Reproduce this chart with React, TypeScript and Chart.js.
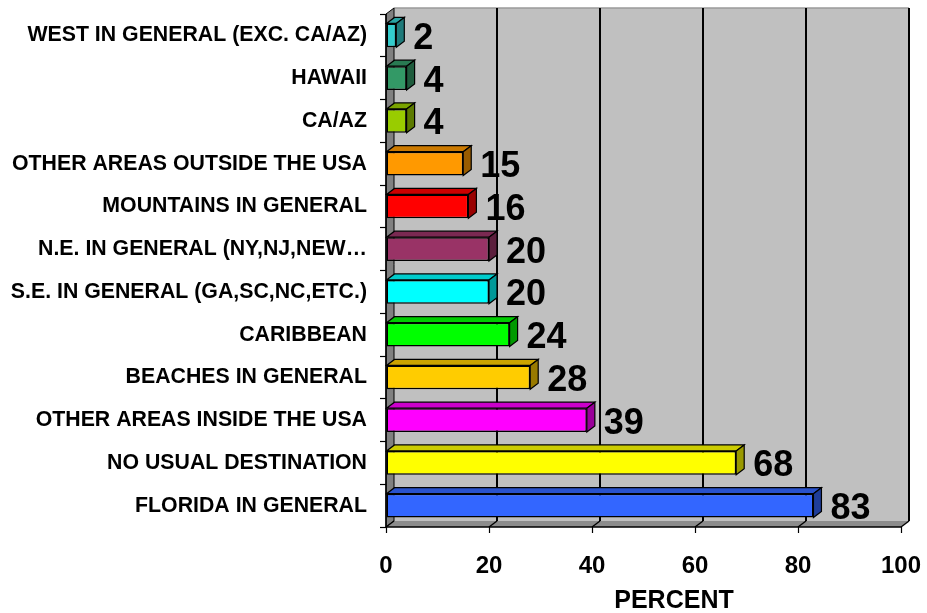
import React, { useEffect, useRef } from "react";
import { Chart, registerables } from "chart.js";

Chart.register(...registerables);

const categories = [
  "WEST IN GENERAL (EXC. CA/AZ)",
  "HAWAII",
  "CA/AZ",
  "OTHER AREAS OUTSIDE THE USA",
  "MOUNTAINS IN GENERAL",
  "N.E. IN GENERAL (NY,NJ,NEW…",
  "S.E. IN GENERAL (GA,SC,NC,ETC.)",
  "CARIBBEAN",
  "BEACHES IN GENERAL",
  "OTHER AREAS INSIDE THE USA",
  "NO USUAL DESTINATION",
  "FLORIDA IN GENERAL",
];
const percentValues = [2, 4, 4, 15, 16, 20, 20, 24, 28, 39, 68, 83];
const barColors = [
  "#33CCCC",
  "#339966",
  "#99CC00",
  "#FF9900",
  "#FF0000",
  "#993366",
  "#00FFFF",
  "#00FF00",
  "#FFCC00",
  "#FF00FF",
  "#FFFF00",
  "#3366FF",
];
const xTickValues = [0, 20, 40, 60, 80, 100];
const axisTitle = "PERCENT";

const FONT = '"Liberation Sans", Arial, sans-serif';
const DX = 8;
const DY = -6;

function shade(hex: string, f: number): string {
  const n = parseInt(hex.slice(1), 16);
  const r = Math.round(((n >> 16) & 255) * f);
  const g = Math.round(((n >> 8) & 255) * f);
  const b = Math.round((n & 255) * f);
  return `rgb(${r},${g},${b})`;
}

function poly(ctx: CanvasRenderingContext2D, pts: number[][], fill?: string, stroke?: string, lw = 1) {
  ctx.beginPath();
  ctx.moveTo(pts[0][0], pts[0][1]);
  for (let i = 1; i < pts.length; i++) ctx.lineTo(pts[i][0], pts[i][1]);
  ctx.closePath();
  if (fill) {
    ctx.fillStyle = fill;
    ctx.fill();
  }
  if (stroke) {
    ctx.strokeStyle = stroke;
    ctx.lineWidth = lw;
    ctx.stroke();
  }
}

const wallsPlugin = {
  id: "walls3d",
  beforeDatasetsDraw(chart: any) {
    const { ctx, chartArea } = chart;
    const { left, right, top, bottom } = chartArea;
    const xs = chart.scales.x;
    ctx.save();
    // back wall
    ctx.fillStyle = "#C0C0C0";
    ctx.fillRect(left + DX, top + DY, right - left, bottom - top);
    // top edge of back wall
    ctx.strokeStyle = "#9a9a9a";
    ctx.lineWidth = 1.5;
    ctx.beginPath();
    ctx.moveTo(left + DX, top + DY);
    ctx.lineTo(right + DX, top + DY);
    ctx.stroke();
    // left wall
    poly(ctx, [[left, top], [left + DX, top + DY], [left + DX, bottom + DY], [left, bottom]], "#808080", "#000", 1);
    // floor
    poly(ctx, [[left, bottom], [left + DX, bottom + DY], [right + DX, bottom + DY], [right, bottom]], "#8c8c8c");
    // gridlines on back wall and floor
    ctx.strokeStyle = "#000";
    for (const v of xTickValues) {
      const px = xs.getPixelForValue(v);
      ctx.lineWidth = 2;
      if (v !== 0) {
        ctx.beginPath();
        ctx.moveTo(px + DX, top + DY);
        ctx.lineTo(px + DX, bottom + DY);
        ctx.stroke();
      }
      ctx.lineWidth = 1.4;
      ctx.beginPath();
      ctx.moveTo(px, bottom);
      ctx.lineTo(px + DX, bottom + DY);
      ctx.stroke();
    }
    // front edges
    ctx.lineWidth = 1.5;
    ctx.beginPath();
    ctx.moveTo(left, top);
    ctx.lineTo(left, bottom);
    ctx.lineTo(right, bottom);
    ctx.stroke();
    ctx.restore();
  },
  afterDatasetsDraw(chart: any) {
    const { ctx } = chart;
    const meta = chart.getDatasetMeta(0);
    ctx.save();
    meta.data.forEach((bar: any, i: number) => {
      const { x, y, base, height } = bar.getProps(["x", "y", "base", "height"], true);
      const h = height / 2;
      const c = barColors[i];
      poly(ctx, [[base, y - h], [base + DX, y - h + DY], [x + DX, y - h + DY], [x, y - h]], shade(c, 0.8), "#000", 1.2);
      poly(ctx, [[x, y - h], [x + DX, y - h + DY], [x + DX, y + h + DY], [x, y + h]], shade(c, 0.6), "#000", 1.2);
      ctx.fillStyle = "#000";
      ctx.font = `bold 36px ${FONT}`;
      ctx.textAlign = "left";
      ctx.textBaseline = "alphabetic";
      ctx.fillText(String(percentValues[i]), x + 17, y + 13.5);
    });
    // axis title
    ctx.font = `bold 25px ${FONT}`;
    ctx.textAlign = "center";
    ctx.textBaseline = "alphabetic";
    ctx.fillStyle = "#000";
    ctx.fillText(axisTitle, 674, 608);
    ctx.restore();
  },
};

function clearPad(s: any) {
  s.paddingLeft = 0;
  s.paddingRight = 0;
  s.paddingTop = 0;
  s.paddingBottom = 0;
}

export default function App() {
  const ref = useRef<HTMLCanvasElement | null>(null);
  useEffect(() => {
    if (!ref.current) return;
    const chart = new Chart(ref.current, {
      type: "bar",
      data: {
        labels: categories,
        datasets: [
          {
            data: percentValues,
            backgroundColor: barColors,
            borderColor: "#000",
            borderWidth: 1.5,
            borderSkipped: false,
            barPercentage: 0.9,
            categoryPercentage: 0.62,
          },
        ],
      },
      options: {
        indexAxis: "y",
        animation: false,
        responsive: true,
        maintainAspectRatio: false,
        layout: { padding: { top: 14, right: 26, left: 0, bottom: 0 } },
        plugins: { legend: { display: false }, tooltip: { enabled: false } },
        scales: {
          x: {
            min: 0,
            max: 100,
            afterFit: (s: any) => {
              s.height = 86;
              clearPad(s);
            },
            ticks: {
              stepSize: 20,
              color: "#000",
              padding: 19,
              font: { family: FONT, size: 24, weight: "bold" },
            },
            grid: { drawOnChartArea: false, drawTicks: true, tickLength: 6, color: "#000", tickWidth: 1.2 },
            border: { display: false },
          },
          y: {
            afterFit: (s: any) => {
              s.width = 386;
              clearPad(s);
            },
            ticks: {
              color: "#000",
              padding: 13,
              autoSkip: false,
              font: { family: FONT, size: 21.3, weight: "bold" },
            },
            grid: { drawOnChartArea: false, drawTicks: true, tickLength: 6, color: "#000", tickWidth: 1.2 },
            border: { display: false },
          },
        },
      },
      plugins: [wallsPlugin],
    });
    return () => chart.destroy();
  }, []);
  return (
    <div style={{ position: "fixed", left: 0, top: 0, width: 927, height: 613, background: "#fff" }}>
      <canvas ref={ref} />
    </div>
  );
}
